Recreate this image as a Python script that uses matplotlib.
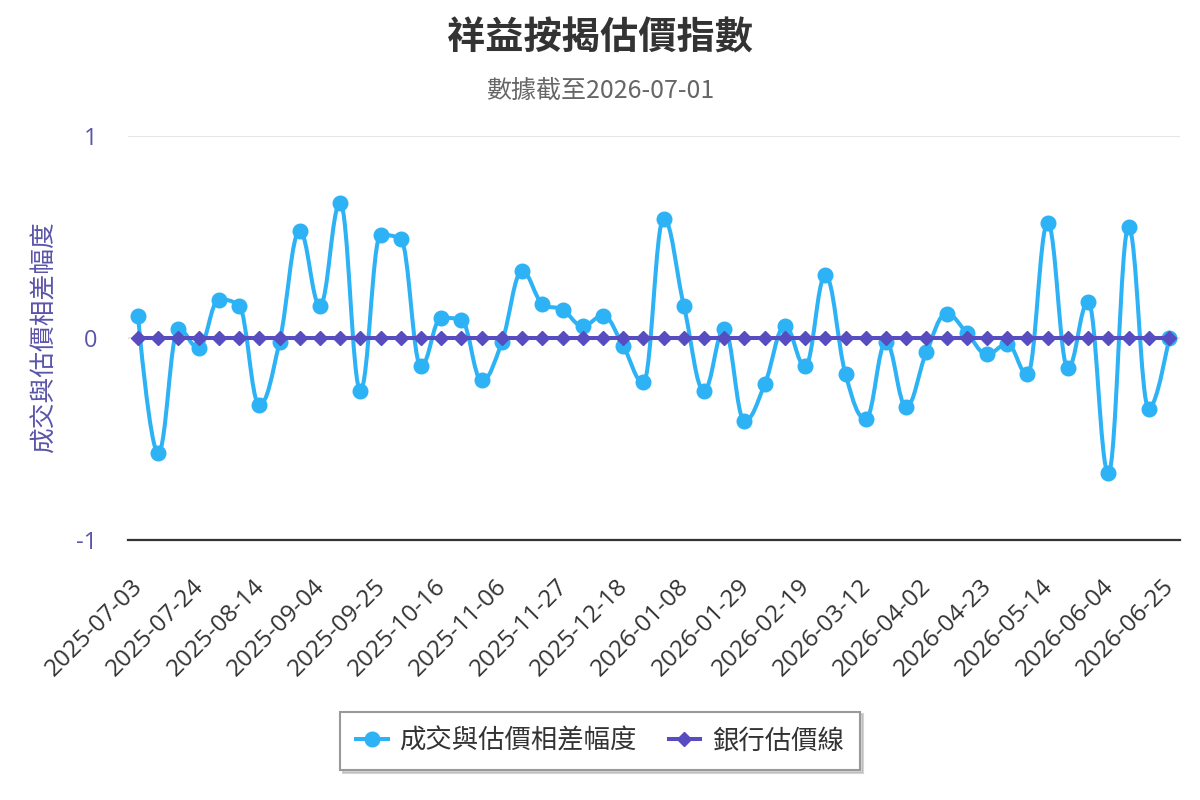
import matplotlib
matplotlib.use("Agg")
import matplotlib.pyplot as plt
from matplotlib.path import Path
from matplotlib.patches import PathPatch
from matplotlib.lines import Line2D
from matplotlib.transforms import ScaledTranslation
import pandas as pd

plt.rcParams['font.family'] = ['Noto Sans CJK TC', 'DejaVu Sans']

# ---- data ----
dates = [d.strftime('%Y-%m-%d') for d in pd.date_range('2025-07-03', periods=52, freq='7D')]
diff_values = [0.11, -0.57, 0.045, -0.05, 0.19, 0.16, -0.33, -0.02, 0.53, 0.16,
               0.67, -0.26, 0.51, 0.49, -0.14, 0.10, 0.09, -0.21, -0.02, 0.33,
               0.17, 0.14, 0.06, 0.11, -0.04, -0.22, 0.59, 0.16, -0.26, 0.045,
               -0.41, -0.23, 0.06, -0.14, 0.31, -0.18, -0.40, -0.02, -0.34, -0.07,
               0.12, 0.025, -0.08, -0.03, -0.18, 0.57, -0.15, 0.18, -0.67, 0.55,
               -0.35, 0.0]
bank_values = [0.0] * 52
title = '祥益按揭估價指數'
subtitle = '數據截至2026-07-01'
y_label = '成交與估價相差幅度'
series_names = ['成交與估價相差幅度', '銀行估價線']
y_ticks = [-1, 0, 1]

BLUE = '#2cb2f5'
PURPLE = '#574cc0'
AXIS_TXT = '#5a55aa'


def spline_path(xs, ys, smoothing=1.5):
    n = len(xs)
    denom = smoothing + 1
    left = [None] * n
    right = [None] * n
    for i in range(1, n - 1):
        lx, ly = xs[i - 1], ys[i - 1]
        px, py = xs[i], ys[i]
        nx, ny = xs[i + 1], ys[i + 1]
        lcx = (smoothing * px + lx) / denom
        lcy = (smoothing * py + ly) / denom
        rcx = (smoothing * px + nx) / denom
        rcy = (smoothing * py + ny) / denom
        if rcx != lcx:
            corr = ((rcy - lcy) * (rcx - px)) / (rcx - lcx) + py - rcy
            lcy += corr
            rcy += corr
        if lcy > ly and lcy > py:
            lcy = max(ly, py); rcy = 2 * py - lcy
        elif lcy < ly and lcy < py:
            lcy = min(ly, py); rcy = 2 * py - lcy
        if rcy > ny and rcy > py:
            rcy = max(ny, py); lcy = 2 * py - rcy
        elif rcy < ny and rcy < py:
            rcy = min(ny, py); lcy = 2 * py - rcy
        left[i] = (lcx, lcy)
        right[i] = (rcx, rcy)
    verts = [(xs[0], ys[0])]
    codes = [Path.MOVETO]
    for i in range(1, n):
        c1 = right[i - 1] if right[i - 1] is not None else (xs[i - 1], ys[i - 1])
        c2 = left[i] if left[i] is not None else (xs[i], ys[i])
        verts += [c1, c2, (xs[i], ys[i])]
        codes += [Path.CURVE4] * 3
    return Path(verts, codes)


fig = plt.figure(figsize=(12, 8), dpi=100)
ax = fig.add_axes([128 / 1200, 1 - 540 / 800, (1180 - 128) / 1200, (540 - 136) / 800])

x = list(range(len(dates)))
lw = 2.9

# blue spline series
ax.add_patch(PathPatch(spline_path(x, diff_values), facecolor='none', edgecolor=BLUE,
                       lw=lw, zorder=3, capstyle='round', joinstyle='round'))
ax.plot(x, diff_values, linestyle='none', marker='o', markersize=10.5, color=BLUE, zorder=4)

# purple bank line
ax.add_patch(PathPatch(spline_path(x, bank_values), facecolor='none', edgecolor=PURPLE,
                       lw=lw, zorder=5))
ax.plot(x, bank_values, linestyle='none', marker='D', markersize=7, color=PURPLE, zorder=6)

step = 20.216
ax.set_xlim(-10 / step, 51 + 11 / step)
ax.set_ylim(-1, 1)

ax.set_yticks(y_ticks)
ax.set_yticklabels([str(v) for v in y_ticks])
ax.grid(axis='y', color='#e6e6e6', lw=1.5, zorder=0)
ax.set_axisbelow(True)

for s in ['top', 'right', 'left']:
    ax.spines[s].set_visible(False)
ax.spines['bottom'].set_color('#333333')
ax.spines['bottom'].set_linewidth(1.6)
ax.spines['bottom'].set_zorder(7)

ax.tick_params(axis='y', length=0, pad=22, labelsize=17, labelcolor=AXIS_TXT)
for lab in ax.get_yticklabels():
    lab.set_fontfamily(['Open Sans', 'DejaVu Sans'])

tick_idx = list(range(0, len(dates), 3))
ax.set_xticks(tick_idx)
ax.set_xticklabels([dates[i] for i in tick_idx], rotation=45, ha='right',
                   rotation_mode='anchor', fontsize=17.5, color='#333333',
                   family=['Open Sans', 'DejaVu Sans'])
ax.tick_params(axis='x', length=0, pad=25)
off = ScaledTranslation(-7 / 100, 0, fig.dpi_scale_trans)
for lab in ax.get_xticklabels():
    lab.set_transform(lab.get_transform() + off)

# titles
fig.text(0.5, 1 - 38 / 800, title, ha='center', va='center', fontsize=27.5,
         fontweight='bold', color='#333333')
fig.text(0.5, 1 - 91 / 800, subtitle, ha='center', va='center', fontsize=18,
         color='#666666')
fig.text(45 / 1200, 1 - 337 / 800, y_label, ha='center', va='center', rotation=90,
         fontsize=18.5, color=AXIS_TXT)

# legend
handles = [
    Line2D([], [], color=BLUE, lw=lw, marker='o', markersize=10.5),
    Line2D([], [], color=PURPLE, lw=lw, marker='D', markersize=7),
]
leg = fig.legend(handles, series_names, loc='center', bbox_to_anchor=(0.5, 1 - 741 / 800),
                 ncol=2, fontsize=19, frameon=True, fancybox=False,
                 edgecolor='#999999', handlelength=1.2, columnspacing=1.2,
                 borderpad=0.6, handletextpad=0.45,
                 shadow={'color': '#aaaaaa', 'alpha': 0.5})
leg.get_frame().set_linewidth(1.5)
for t in leg.get_texts():
    t.set_color('#333333')

fig.savefig('out.png', dpi=100)
